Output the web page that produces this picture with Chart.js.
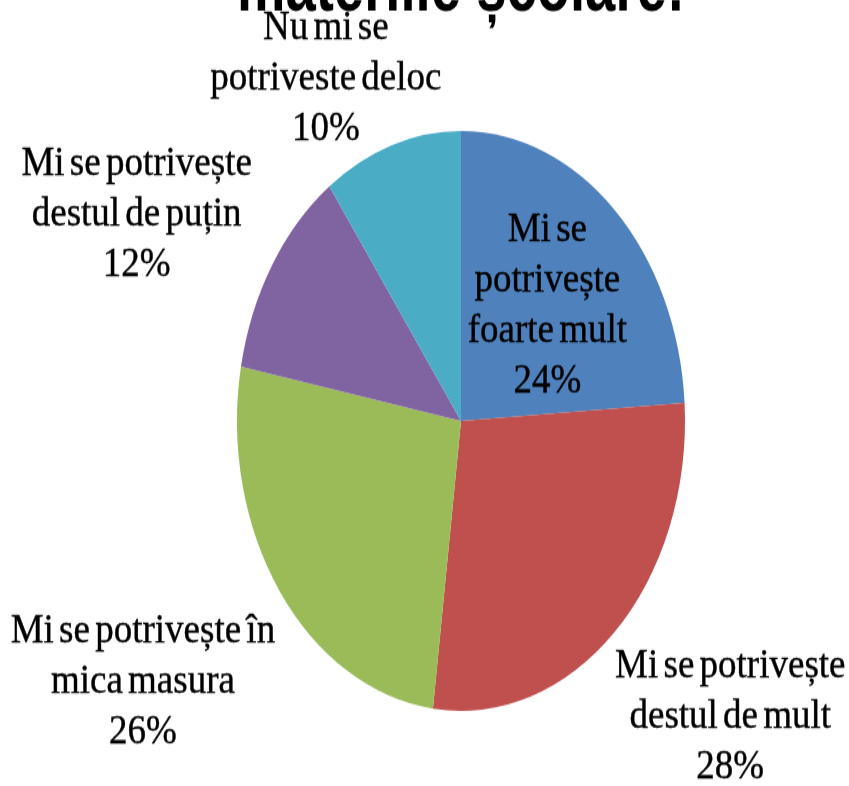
<!DOCTYPE html>
<html>
<head>
<meta charset="utf-8">
<script src="https://cdn.jsdelivr.net/npm/chart.js@4"></script>
<style>
  html, body { margin: 0; padding: 0; background: #fff; overflow: hidden; }
  /* the original picture is a stretched circle, so the whole chart is stretched */
  #wrap {
    position: absolute; left: 0; top: -49.5px;
    width: 849px; height: 646px;
    transform: scaleY(1.2946); transform-origin: 0 0;
  }
</style>
</head>
<body>
<div id="wrap"><canvas id="pie"></canvas></div>
<script>
const titleText = "materiile școlare:";
const categories = [
  ["Mi se", "potrivește", "foarte mult"],
  ["Mi se potrivește", "destul de mult"],
  ["Mi se potrivește în", "mica masura"],
  ["Mi se potrivește", "destul de puțin"],
  ["Nu mi se", "potriveste deloc"],
];
const values = [24, 28, 26, 12, 10];
const colors = ["#4F81BD", "#C0504D", "#9BBB59", "#8064A2", "#4BACC6"];

// label placement: distance from centre (in radii) along the slice middle, plus a nudge
const labelRadius = [0.55, 1.567, 1.678, 1.604, 1.317];
const labelShift = [[2, 1], [29, -27], [-14, -19], [-21, 33], [-44, 16]];

const sliceLabels = {
  id: "sliceLabels",
  afterDatasetsDraw(chart) {
    const ctx = chart.ctx;
    const meta = chart.getDatasetMeta(0);
    const total = values.reduce((a, b) => a + b, 0);
    ctx.save();
    ctx.font = "37px 'Liberation Serif'";
    ctx.fillStyle = "#000";
    ctx.strokeStyle = "#000";
    ctx.lineWidth = 0.4;
    ctx.textAlign = "center";
    ctx.textBaseline = "middle";
    if ("wordSpacing" in ctx) ctx.wordSpacing = "-4px";
    meta.data.forEach((arc, i) => {
      const p = arc.getProps(["x", "y", "startAngle", "endAngle", "outerRadius"], true);
      const mid = (p.startAngle + p.endAngle) / 2;
      const d = p.outerRadius * labelRadius[i];
      const x = p.x + Math.cos(mid) * d + labelShift[i][0];
      const y = p.y + Math.sin(mid) * d + labelShift[i][1];
      const lines = [...categories[i], Math.round((values[i] / total) * 100) + "%"];
      ctx.save();
      ctx.translate(x, y);
      ctx.scale(1, 0.86);
      lines.forEach((line, j) => {
        const ly = ((j - (lines.length - 1) / 2) * 39) / 0.86;
        ctx.fillText(line, 0, ly);
        ctx.strokeText(line, 0, ly);
      });
      ctx.restore();
    });
    ctx.restore();
  },
};

new Chart(document.getElementById("pie"), {
  type: "pie",
  data: {
    labels: categories.map((c) => c.join(" ")),
    datasets: [
      {
        data: values,
        backgroundColor: colors,
        borderWidth: 0,
      },
    ],
  },
  options: {
    responsive: true,
    maintainAspectRatio: false,
    animation: false,
    layout: {
      padding: { left: 237, right: 164, top: 0, bottom: 59 },
    },
    plugins: {
      legend: { display: false },
      tooltip: { enabled: false },
      title: {
        display: true,
        text: titleText,
        color: "#000",
        font: { family: "'Liberation Sans'", size: 59, weight: "bold", lineHeight: 1 },
        padding: { top: 0, bottom: 80 },
      },
    },
  },
  plugins: [sliceLabels],
});
</script>
</body>
</html>
